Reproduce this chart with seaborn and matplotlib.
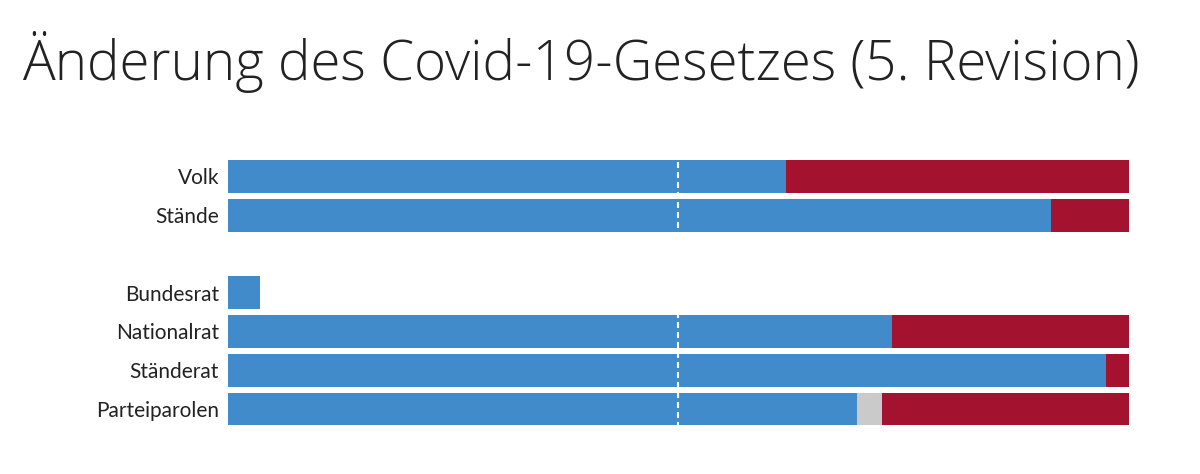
import matplotlib
matplotlib.use("Agg")
import matplotlib.pyplot as plt
import seaborn as sns
import pandas as pd
import numpy as np

categories = ["Volk", "Stände", "", "Bundesrat", "Nationalrat", "Ständerat", "Parteiparolen"]
yes_share = [61.9, 91.3, np.nan, 3.6, 73.7, 97.4, 69.8]
neutral_share = [0.0, 0.0, np.nan, 0.0, 0.0, 0.0, 2.8]
no_share = [38.1, 8.7, np.nan, 0.0, 26.3, 2.6, 27.4]
title = "Änderung des Covid-19-Gesetzes (5. Revision)"

colors = {"yes": "#418bca", "neutral": "#cacaca", "no": "#a3132f"}

sns.set_theme(style="white")
plt.rcParams["font.family"] = ["Lato", "DejaVu Sans"]

df = pd.DataFrame({"cat": categories, "yes": yes_share, "neutral": neutral_share, "no": no_share})
df = df[df["cat"] != ""].copy()
df["cum_neutral"] = df["yes"] + df["neutral"]
df["cum_no"] = df["cum_neutral"] + df["no"]

fig = plt.figure(figsize=(12, 4.74), dpi=100)
ax = fig.add_axes([0.19, 0.0964, 0.7508, 0.5724])

for col, key in [("cum_no", "no"), ("cum_neutral", "neutral"), ("yes", "yes")]:
    sub = df[df[col] > 0]
    sns.barplot(data=sub, x=col, y="cat", order=categories, orient="h",
                color=colors[key], saturation=1, width=0.845, ax=ax,
                linewidth=0, errorbar=None)

ax.axvline(50, color="white", linewidth=1.5, dashes=(2.9, 1.9), zorder=5)

ax.set_xlim(0, 100)
ax.set_ylim(6.5, -0.5)
ax.set_xlabel("")
ax.set_ylabel("")
ax.set_xticks([])
for s in ax.spines.values():
    s.set_visible(False)
ax.tick_params(axis="y", length=0, pad=6.5, labelsize=15, labelcolor="#222222")

fig.text(0.018, 0.8312, title, fontsize=39.3, fontweight=300, color="#222222",
         ha="left", va="baseline", family=["Open Sans", "DejaVu Sans"])

fig.savefig("out.png", dpi=100, facecolor="white")
